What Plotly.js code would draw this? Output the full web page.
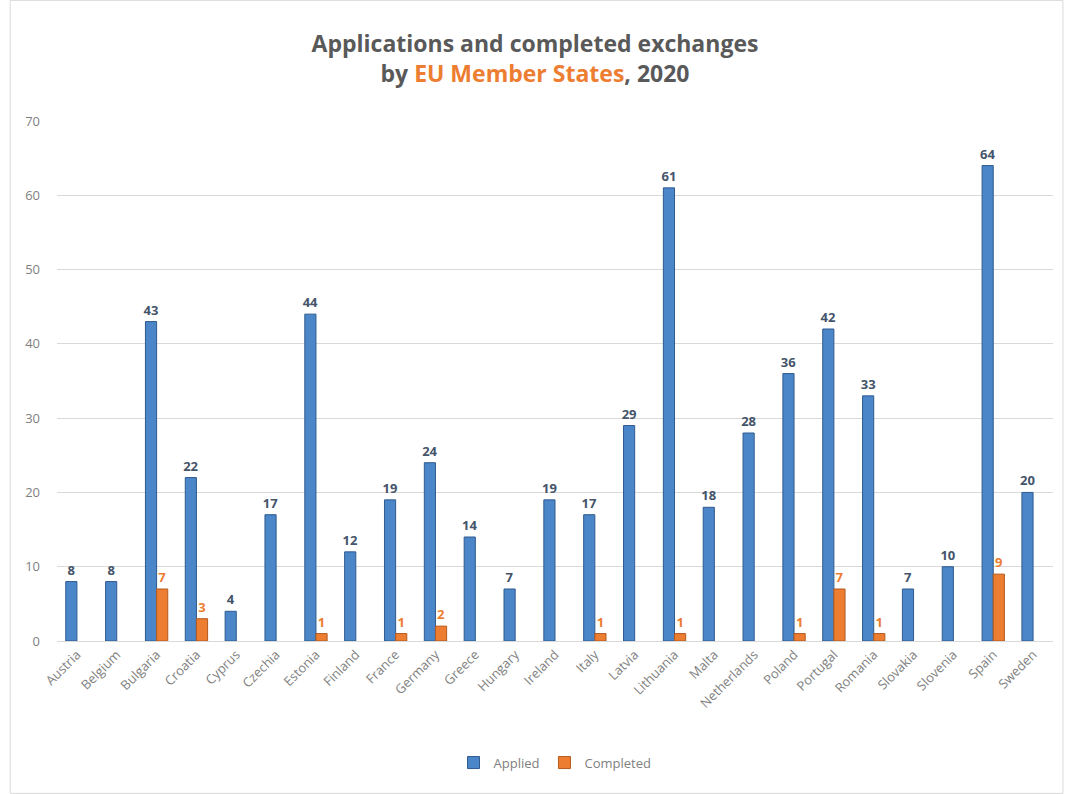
<!DOCTYPE html>
<html><head><meta charset="utf-8">
<script src="https://cdn.plot.ly/plotly-3.0.1.min.js"></script>
<style>html,body{margin:0;padding:0;background:#fff;}#chart{width:1070px;height:794px;}</style>
</head><body><div id="chart"></div>
<script>
const countries = ["Austria","Belgium","Bulgaria","Croatia","Cyprus","Czechia","Estonia","Finland","France","Germany","Greece","Hungary","Ireland","Italy","Latvia","Lithuania","Malta","Netherlands","Poland","Portugal","Romania","Slovakia","Slovenia","Spain","Sweden"];
const applied = [8,8,43,22,4,17,44,12,19,24,14,7,19,17,29,61,18,28,36,42,33,7,10,64,20];
const completed = [0,0,7,3,0,0,1,0,1,2,0,0,0,1,0,1,0,0,1,7,1,0,0,9,0];
const yTicks = [0,10,20,30,40,50,60,70];

const font = "Open Sans, Noto Sans, sans-serif";
const traces = [
  {type:'bar', name:'Applied', x:countries, y:applied,
   marker:{color:'#4a86c8', line:{color:'#2f5a8e', width:1}},
   text:applied.map(String), textposition:'outside', cliponaxis:false, constraintext:'none',
   textfont:{family:font, size:13, color:'#44546a', weight:'bold'}},
  {type:'bar', name:'Completed', x:countries, y:completed.map(v=>v>0?v:null),
   marker:{color:'#ed7d31', line:{color:'#b35a1f', width:1}},
   text:completed.map(v=>v>0?String(v):''), textposition:'outside', cliponaxis:false, constraintext:'none',
   textfont:{family:font, size:13, color:'#ed7d31', weight:'bold'}}
];
const layout = {
  width:1070, height:794,
  margin:{l:57, r:17, t:121, b:153},
  paper_bgcolor:'#fff', plot_bgcolor:'#fff',
  font:{family:font, color:'#7f7f7f'},
  title:{text:'<b>Applications and completed exchanges<br>by <span style="color:#ed7d31">EU Member States</span>, 2020</b>',
    x:0.5, xanchor:'center', y:0.935, yanchor:'top', font:{family:font, size:23, color:'#595959'}},
  barmode:'group', bargap:0.44, bargroupgap:0,
  xaxis:{tickangle:-45, tickfont:{size:13, color:'#7f7f7f'}, showline:true, linecolor:'#d9d9d9', ticks:'', automargin:false},
  yaxis:{range:[0,70], tickvals:yTicks, tickfont:{size:13, color:'#7f7f7f'}, gridcolor:'#d9d9d9', gridwidth:1, zeroline:false, ticks:'', ticklabelstandoff:16, automargin:false},
  showlegend:true,
  legend:{orientation:'h', x:0.5, xanchor:'center', y:-0.205, yanchor:'top', font:{size:13, color:'#7f7f7f'}, itemwidth:30, tracegroupgap:0},
  shapes:[{type:'rect', xref:'paper', yref:'paper', x0:-0.047, x1:1.01, y0:-0.293, y1:1.232, line:{color:'#d9d9d9', width:1}}]
};
Plotly.newPlot('chart', traces, layout, {displayModeBar:false});
</script></body></html>
